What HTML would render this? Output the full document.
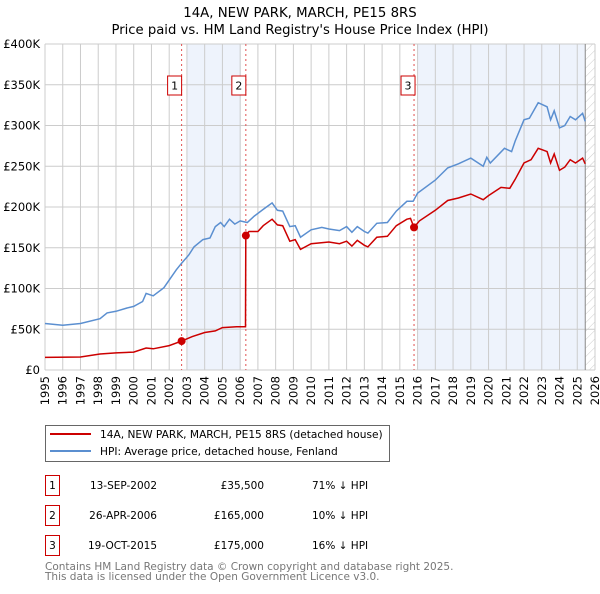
<!DOCTYPE html>
<html><head><meta charset="utf-8"><style>
body{margin:0;background:#fff;font-family:"DejaVu Sans","Liberation Sans",sans-serif;}
svg text{font-family:"DejaVu Sans","Liberation Sans",sans-serif;}
</style></head><body>
<svg id="chart" width="600" height="590" viewBox="0 0 600 590" xmlns="http://www.w3.org/2000/svg">
<defs><pattern id="hatch" width="6" height="6" patternUnits="userSpaceOnUse" patternTransform="rotate(45)"><line x1="0" y1="0" x2="0" y2="6" stroke="#ccc" stroke-width="1"/></pattern></defs>
<text x="300" y="17" text-anchor="middle" font-size="13.3">14A, NEW PARK, MARCH, PE15 8RS</text>
<text x="300" y="34" text-anchor="middle" font-size="13.2">Price paid vs. HM Land Registry's House Price Index (HPI)</text>
<g id="plot"></g>
<g>
<rect x="45.5" y="425.5" width="344" height="36" fill="#fff" stroke="#666"/>
<line x1="50" y1="434" x2="91" y2="434" stroke="#cc0000" stroke-width="2"/>
<text x="100" y="438" font-size="10.6">14A, NEW PARK, MARCH, PE15 8RS (detached house)</text>
<line x1="50" y1="451" x2="91" y2="451" stroke="#5b8fd0" stroke-width="2"/>
<text x="100" y="455" font-size="10.6">HPI: Average price, detached house, Fenland</text>
</g>
<g font-size="10.5">
<rect x="45.5" y="475.5" width="14" height="20" fill="#fff" stroke="#cc0000"/><text x="52.5" y="489" text-anchor="middle">1</text>
<text x="157" y="489" text-anchor="end">13-SEP-2002</text><text x="264" y="489" text-anchor="end">£35,500</text><text x="312" y="489">71% ↓ HPI</text>
<rect x="45.5" y="505.5" width="14" height="20" fill="#fff" stroke="#cc0000"/><text x="52.5" y="519" text-anchor="middle">2</text>
<text x="157" y="519" text-anchor="end">26-APR-2006</text><text x="264" y="519" text-anchor="end">£165,000</text><text x="312" y="519">10% ↓ HPI</text>
<rect x="45.5" y="535.5" width="14" height="20" fill="#fff" stroke="#cc0000"/><text x="52.5" y="549" text-anchor="middle">3</text>
<text x="157" y="549" text-anchor="end">19-OCT-2015</text><text x="264" y="549" text-anchor="end">£175,000</text><text x="312" y="549">16% ↓ HPI</text>
</g>
<text x="45" y="570" font-size="10.5" fill="#777">Contains HM Land Registry data © Crown copyright and database right 2025.</text>
<text x="45" y="580" font-size="10.5" fill="#777">This data is licensed under the Open Government Licence v3.0.</text>
</svg>
<script>
const yTicks=[0,50000,100000,150000,200000,250000,300000,350000,400000];
const yTickLabels=["£0","£50K","£100K","£150K","£200K","£250K","£300K","£350K","£400K"];
const xYears=[1995,1996,1997,1998,1999,2000,2001,2002,2003,2004,2005,2006,2007,2008,2009,2010,2011,2012,2013,2014,2015,2016,2017,2018,2019,2020,2021,2022,2023,2024,2025,2026];
const hpiT=[1995,1996,1997,1998.1,1998.5,1999,1999.6,2000,2000.5,2000.7,2001.1,2001.7,2002.4,2002.7,2003.1,2003.4,2003.9,2004.3,2004.6,2004.9,2005.1,2005.4,2005.7,2006,2006.4,2006.8,2007.3,2007.8,2008.1,2008.4,2008.8,2009.1,2009.4,2010,2010.6,2011,2011.6,2012,2012.3,2012.6,2013,2013.2,2013.7,2014.3,2014.8,2015.4,2015.75,2016,2017,2017.7,2018.3,2019,2019.7,2019.9,2020.1,2020.9,2021.3,2021.5,2022,2022.3,2022.8,2023.3,2023.5,2023.7,2024,2024.3,2024.6,2024.9,2025.3,2025.45];
const hpiV=[57000,55000,57000,63000,70000,72000,76000,78000,84000,94000,91000,101000,123000,131000,141000,151000,160000,162000,176000,181000,176000,185000,179000,183000,181000,189000,197000,205000,196000,195000,176000,177000,163000,172000,175000,173000,171000,176000,169000,176000,170000,168000,180000,181000,195000,207000,207000,217000,233000,248000,253000,260000,250000,261000,254000,272000,268000,281000,307000,309000,328000,323000,307000,318000,297000,300000,311000,307000,315000,305000];
const paidT=[1995,1997,1998.1,1999,2000,2000.7,2001.1,2002,2002.7,2003.3,2004,2004.6,2005,2005.8,2006.3,2006.32,2006.5,2007,2007.3,2007.8,2008.1,2008.4,2008.8,2009.1,2009.4,2010,2011,2011.6,2012,2012.3,2012.6,2013,2013.2,2013.7,2014.3,2014.8,2015.4,2015.6,2015.8,2016.1,2017,2017.7,2018.3,2019,2019.7,2020,2020.7,2021.2,2021.5,2022,2022.4,2022.8,2023.3,2023.5,2023.7,2024,2024.3,2024.6,2024.9,2025.3,2025.45];
const paidV=[15500,16000,19600,21000,22000,27000,26000,30000,35500,41000,46000,48000,52000,53000,53000,165000,170000,170000,177000,185000,178000,177000,158000,160000,148000,155000,157000,155000,158000,152000,159000,153000,151000,163000,164000,177000,185000,186000,175000,183000,196000,208000,211000,216000,209000,214000,224000,223000,234000,254000,258000,272000,268000,254000,265000,245000,249000,258000,254000,260000,253000];
const saleT=[2002.7,2006.32,2015.8];
const saleV=[35500,165000,175000];
const saleLabels=["1","2","3"];
const X0=45,X1=595,Y0=370,Y1=44;
const xs=t=>X0+(t-1995)/31*(X1-X0);
const ys=v=>Y0-v/400000*(Y0-Y1);
const NS="http://www.w3.org/2000/svg";
const g=document.getElementById('plot');
function mk(tag,at){const e=document.createElementNS(NS,tag);for(const k in at)e.setAttribute(k,at[k]);g.appendChild(e);return e;}
let e;
e=mk('rect',{x:X0,y:Y1,width:X1-X0,height:Y0-Y1,fill:'#fff'});


e=mk('rect',{x:xs(2003),y:Y1,width:xs(2006.05)-xs(2003),height:Y0-Y1,fill:'#eef3fc'});


e=mk('rect',{x:xs(2016),y:Y1,width:xs(2025.45)-xs(2016),height:Y0-Y1,fill:'#eef3fc'});


e=mk('rect',{x:xs(2025.45),y:Y1,width:X1-xs(2025.45),height:Y0-Y1,fill:'url(#hatch)'});


xYears.forEach(yr=>{
 e=mk('line',{x1:xs(yr),x2:xs(yr),y1:Y1,y2:Y0,stroke:'#ccc','stroke-width':1});
 
 
 e=mk('text',{x:0,y:0,'font-size':11.5,'text-anchor':'end',transform:`translate(${xs(yr)+4},${Y0+6}) rotate(-90)`});
 e.textContent=yr;
 
 
});
yTicks.forEach((v,i)=>{
 e=mk('line',{x1:X0,x2:X1,y1:ys(v),y2:ys(v),stroke:'#ccc','stroke-width':1});
 
 
 e=mk('text',{x:40,y:ys(v)+4,'font-size':11.5,'text-anchor':'end'});
 e.textContent=yTickLabels[i];
 
 
});
e=mk('line',{x1:xs(2025.45),x2:xs(2025.45),y1:Y1,y2:Y0,stroke:'#888','stroke-width':1});


saleT.forEach((t,i)=>{
 e=mk('line',{x1:xs(t),x2:xs(t),y1:Y1,y2:Y0,stroke:'#e05050','stroke-width':1,'stroke-dasharray':'2,3'});
 
 
 e=mk('rect',{x:xs(t)-10-(i==2?-1:0)-4,y:76,width:14,height:19,fill:'#fff',stroke:'#cc0000'});
 
 
 e=mk('text',{x:xs(t)-3-(i==2?-1:0)-4,y:89.5,'font-size':11,'text-anchor':'middle'});
 e.textContent=saleLabels[i];
 
 
});
e=mk('path',{d:hpiT.map((t,i)=>(i?'L':'M')+xs(t).toFixed(1)+','+ys(hpiV[i]).toFixed(1)).join(''),fill:'none',stroke:'#5b8fd0','stroke-width':1.5});


e=mk('path',{d:paidT.map((t,i)=>(i?'L':'M')+xs(t).toFixed(1)+','+ys(paidV[i]).toFixed(1)).join(''),fill:'none',stroke:'#cc0000','stroke-width':1.5});


saleT.forEach((t,i)=>{
 e=mk('circle',{cx:xs(t),cy:ys(saleV[i]),r:4,fill:'#cc0000'});
 
 
});
</script>
</body></html>
